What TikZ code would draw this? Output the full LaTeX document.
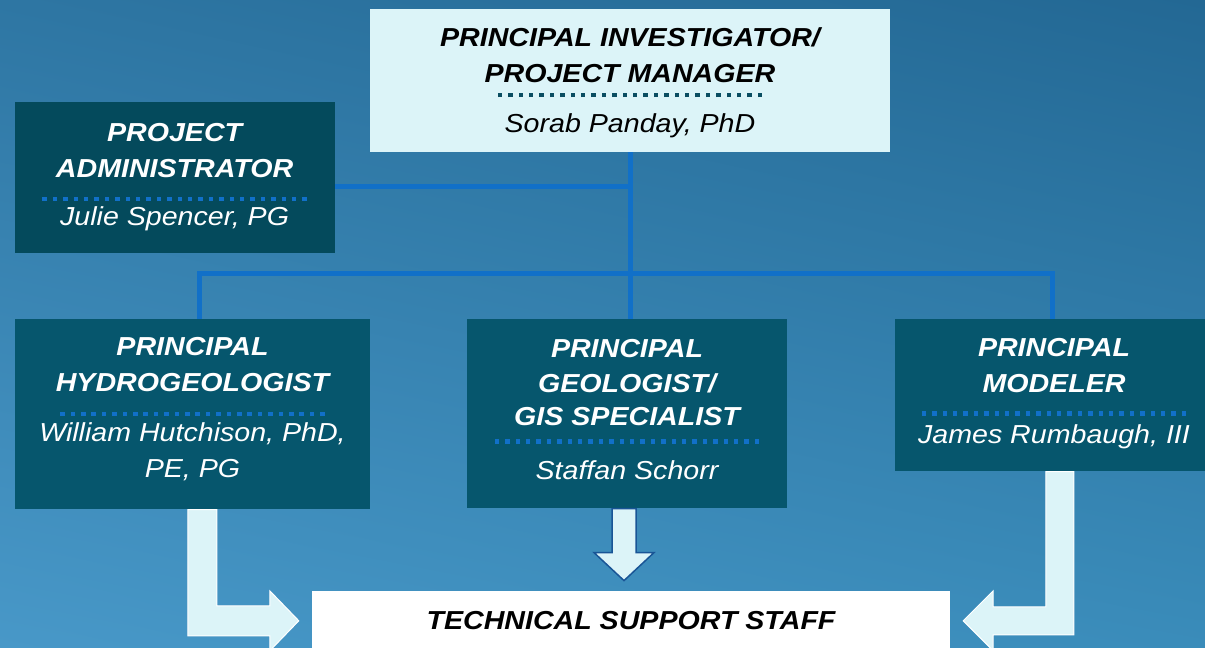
\documentclass[tikz,border=0pt]{standalone}
\usepackage{fontspec}
\setmainfont{Liberation Sans}[FakeStretch=1.1]
\usetikzlibrary{positioning, calc, shadings}
\definecolor{bgtl}{RGB}{46,118,163}
\definecolor{bgtr}{RGB}{35,104,148}
\definecolor{bgbl}{RGB}{72,152,200}
\definecolor{bgbr}{RGB}{58,140,186}
\definecolor{rolebox}{RGB}{6,86,109}
\definecolor{adminbox}{RGB}{4,74,92}
\definecolor{pibox}{RGB}{220,244,248}
\definecolor{linkblue}{RGB}{17,112,200}
\definecolor{pidots}{RGB}{10,78,98}
\definecolor{arrowedge}{RGB}{25,85,150}

% row of square dots under a title
\newcommand{\dotsep}[1]{{\color{#1}\cleaders\hbox to 10.4pt{\hss\rule[-2.25pt]{4.5pt}{4.5pt}\hss}\hskip 271pt}}

\begin{document}
\begin{tikzpicture}[x=1pt, y=1pt,
  role/.style={rectangle, fill=rolebox, text=white, align=center, inner sep=0pt, font=\fontsize{26}{36}\selectfont\itshape},
  lead/.style={role, fill=pibox, text=black},
  support/.style={role, fill=white, text=black},
  wire/.style={draw=linkblue, line width=5pt},
  blockarrow/.style={fill=pibox, draw=white, line width=1pt, line join=miter}
]
  \clip (0,0) rectangle (1205,-648);
  \shade[upper left=bgtl, upper right=bgtr, lower left=bgbl, lower right=bgbr] (0,-648) rectangle (1205,0);

  % Top
  \node[lead, minimum width=520pt, minimum height=143pt, text depth=0pt] (pi) at (630,-80.5)
    {\textbf{PRINCIPAL INVESTIGATOR/}\\\textbf{PROJECT MANAGER}\\[-24pt]\dotsep{pidots}\\[2pt]Sorab Panday, PhD};
  \node[role, fill=adminbox, minimum width=320pt, minimum height=151pt, left=35pt of pi, yshift=-97pt] (admin)
    {\textbf{PROJECT}\\\textbf{ADMINISTRATOR}\\[-15pt]\dotsep{linkblue}\\[-9pt]Julie Spencer, PG};

  % Principals
  \node[role, minimum width=355pt, minimum height=190pt, text depth=13pt, below=167pt of pi, xshift=-437.5pt] (hydro)
    {\textbf{PRINCIPAL}\\\textbf{HYDROGEOLOGIST}\\[-14pt]\dotsep{linkblue}\\[-8pt]William Hutchison, PhD,\\PE, PG};
  \node[role, minimum width=320pt, minimum height=189pt, text depth=9pt, below=167pt of pi, xshift=-3pt] (geo)
    {\textbf{PRINCIPAL}\\[-1pt]\textbf{GEOLOGIST/}\\[-3pt]\textbf{GIS SPECIALIST}\\[-20pt]\dotsep{linkblue}\\[2pt]Staffan Schorr};
  \node[role, minimum width=318pt, minimum height=152pt, text depth=9pt, below=167pt of pi, xshift=424pt] (modeler)
    {\textbf{PRINCIPAL}\\\textbf{MODELER}\\[-15pt]\dotsep{linkblue}\\[-6pt]James Rumbaugh, III};

  % Staff
  \node[support, minimum width=638pt, minimum height=60pt, below=82pt of geo, xshift=4pt] (staff)
    {\textbf{TECHNICAL SUPPORT STAFF}};

  % Lines
  \coordinate[below=121pt of pi.south] (bus);
  \draw[wire] (pi.south) -- (pi.south |- geo.north);
  \draw[wire] ([yshift=-8.5pt]admin.east) -- ([yshift=-8.5pt]admin.east -| pi.south);
  \draw[wire] ([xshift=7pt]hydro.north) |- (bus) -| ([xshift=-2pt]modeler.north);

  % Arrows to staff
  \draw[blockarrow] ([xshift=173pt]hydro.south west) |- ([xshift=-42pt,yshift=-15pt]staff.west) -- ++(0,-15)
    -- ([xshift=-13pt]staff.west) -- ([xshift=-42pt,yshift=30pt]staff.west) -- ++(0,-15)
    -| ([xshift=202pt]hydro.south west) -- cycle;
  \draw[blockarrow, draw=arrowedge, line width=1.5pt] ([xshift=-15pt]geo.south) -- ++(0,-44) -- ++(-18,0)
    -- ++(30,-28) -- ++(30,28) -- ++(-18,0) -- ++(0,44) -- cycle;
  \draw[blockarrow] ([xshift=179pt]modeler.south west) |- ([xshift=43pt,yshift=-14pt]staff.east) -- ++(0,-16)
    -- ([xshift=13pt]staff.east) -- ([xshift=43pt,yshift=30pt]staff.east) -- ++(0,-16)
    -| ([xshift=151pt]modeler.south west) -- cycle;
\end{tikzpicture}
\end{document}
